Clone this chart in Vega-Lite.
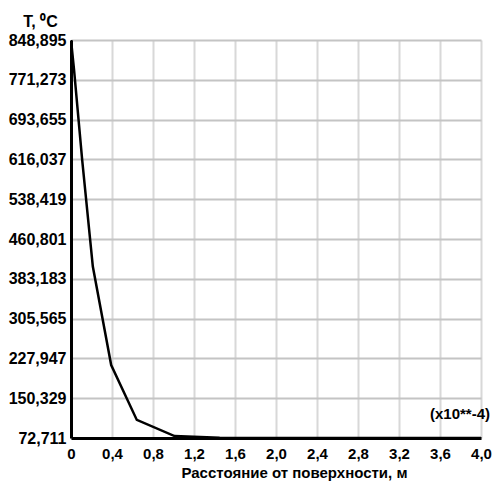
{
  "$schema": "https://vega.github.io/schema/vega-lite/v6.json",
  "width": 410,
  "height": 398,
  "autosize": {"type": "none"},
  "padding": {"left": 71, "top": 40, "right": 14, "bottom": 43},
  "background": "white",
  "config": {
    "view": {"stroke": null},
    "font": "Liberation Sans",
    "axis": {
      "labelFont": "Liberation Sans",
      "labelFontWeight": "bold",
      "labelFontSize": 16,
      "labelColor": "black",
      "titleFont": "Liberation Sans",
      "titleFontWeight": "bold",
      "titleColor": "black",
      "gridColor": "#d8d8d8",
      "gridWidth": 2,
      "domainColor": "black",
      "domainWidth": 3,
      "ticks": false
    }
  },
  "resolve": {"axis": {"x": "independent", "y": "independent"}},
  "layer": [
    {
      "data": {
        "values": [
          {"x": 0, "t": 848.895},
          {"x": 0.03, "t": 790},
          {"x": 0.109, "t": 615},
          {"x": 0.213, "t": 407},
          {"x": 0.392, "t": 215},
          {"x": 0.642, "t": 108},
          {"x": 1.01, "t": 76.5},
          {"x": 1.45, "t": 73.2},
          {"x": 3.3, "t": 72.9},
          {"x": 4.0, "t": 72.711}
        ]
      },
      "mark": {"type": "line", "color": "black", "strokeWidth": 2.5, "clip": true},
      "encoding": {
        "x": {
          "field": "x",
          "type": "quantitative",
          "scale": {"domain": [0, 4], "nice": false, "zero": false},
          "axis": {
            "values": [0, 0.4, 0.8, 1.2, 1.6, 2.0, 2.4, 2.8, 3.2, 3.6, 4.0],
            "labelExpr": "datum.value == 0 ? '0' : replace(format(datum.value, '.1f'), '.', ',')",
            "labelPadding": 8,
            "labelFontSize": 15,
            "title": "Расстояние от поверхности, м",
            "titleFontSize": 15,
            "titlePadding": 4,
            "titleX": 223,
            "grid": true,
            "labelFlush": false,
            "labelOverlap": false
          }
        },
        "y": {
          "field": "t",
          "type": "quantitative",
          "scale": {"domain": [72.711, 848.895], "nice": false, "zero": false},
          "axis": {
            "values": [72.711, 150.329, 227.947, 305.565, 383.183, 460.801, 538.419, 616.037, 693.655, 771.273, 848.895],
            "labelExpr": "replace(format(datum.value, '.3f'), '.', ',')",
            "labelPadding": 5,
            "labelOverlap": false,
            "labelFlush": false,
            "grid": true,
            "gridColor": "#c4c4c4",
            "title": "T, ⁰C",
            "titleFontSize": 16,
            "titleAngle": 0,
            "titleAlign": "center",
            "titleBaseline": "alphabetic",
            "titleX": -31,
            "titleY": -14
          }
        }
      }
    },
    {
      "data": {"values": [{"x": 4.0, "t": 110, "label": "(x10**-4)"}]},
      "mark": {"type": "text", "align": "right", "baseline": "alphabetic", "dx": 9, "font": "Liberation Sans", "fontWeight": "bold", "fontSize": 15, "color": "black"},
      "encoding": {
        "x": {"field": "x", "type": "quantitative", "axis": null},
        "y": {"field": "t", "type": "quantitative", "axis": null},
        "text": {"field": "label"}
      }
    }
  ]
}
